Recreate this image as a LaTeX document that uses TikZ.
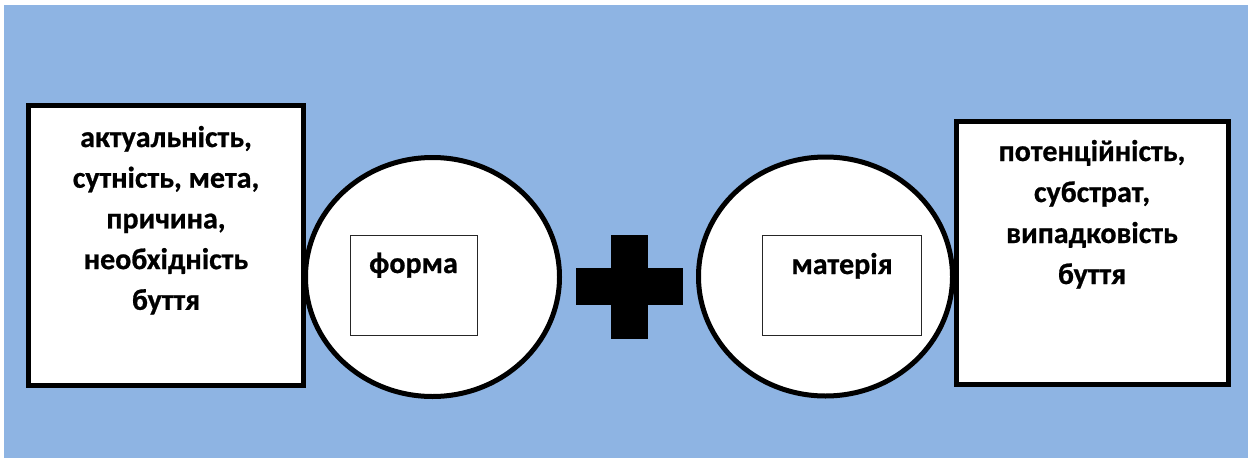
\documentclass[tikz,border=0pt]{standalone}
\usepackage{fontspec}
\setmainfont{Carlito}[BoldFont={Carlito Bold},BoldFeatures={FakeBold=0.7}]
\usetikzlibrary{shapes.geometric}
\definecolor{bgblue}{RGB}{142,180,227}
\tikzset{
  bigbox/.style={draw=black, fill=white, line width=5pt, inner sep=0pt, outer sep=0pt},
  ring/.style={ellipse, draw=black, fill=white, line width=5pt, inner sep=0pt, outer sep=0pt, minimum width=254pt, minimum height=239pt},
  innerbox/.style={draw=black!85, fill=white, line width=1pt, inner sep=0pt, minimum height=100pt},
  txt/.style={font=\bfseries\fontsize{30}{40}\selectfont, inner sep=0pt, anchor=base}
}
\begin{document}
\begin{tikzpicture}[x=1pt,y=-1pt]
\useasboundingbox (0,0) rectangle (1248,458);
\fill[white] (0,0) rectangle (1248,458);
\fill[bgblue] (4,5) rectangle (1248,458);
% left big box
\node[bigbox, minimum width=275pt, minimum height=280pt] (lbox) at (166,245.5) {};
\foreach \t [count=\i] in {{актуальність,},{сутність, мета,},{причина,},{необхідність},{буття}}
  \node[txt] (lt\i) at (166,{147+40.7*(\i-1)}) {\t};
% right big box
\node[bigbox, minimum width=272pt, minimum height=263pt] (rbox) at (1092.5,253) {};
\foreach \t [count=\i] in {{потенційність,},{субстрат,},{випадковість},{буття}}
  \node[txt] (rt\i) at (1092,{161+41*(\i-1)}) {\t};
% circles
\node[ring] (lcirc) at (432.5,277) {};
\node[ring] (rcirc) at (825.5,276.5) {};
% inner boxes
\node[innerbox, minimum width=127pt] (lin) at (413.5,285) {};
\node[txt] (forma) at (413.5,273) {форма};
\node[innerbox, minimum width=159pt] (rin) at (841.5,285) {};
\node[txt] (materia) at (842,274) {матерія};
% plus sign
\fill[black] (576,268) rectangle (683,305);
\fill[black] (611,235) rectangle (648,339);
\end{tikzpicture}
\end{document}
